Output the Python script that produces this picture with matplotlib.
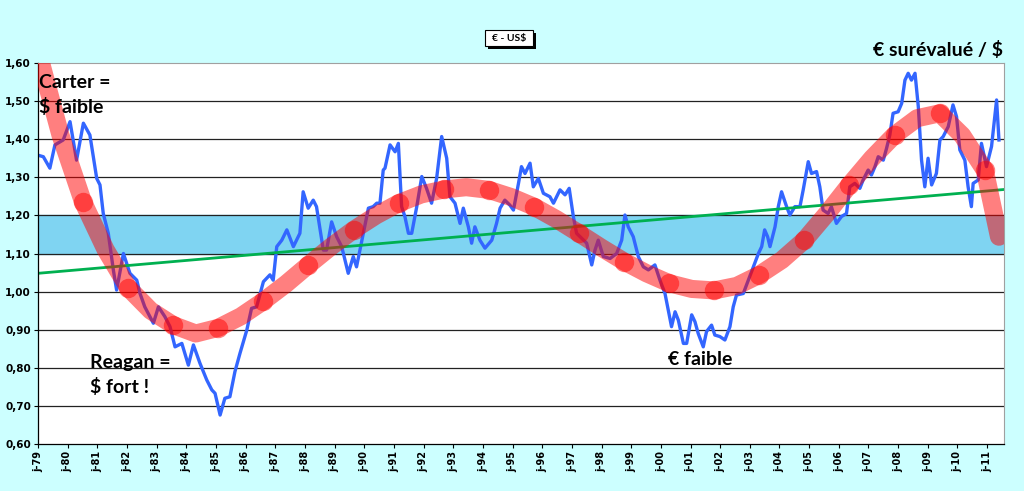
import matplotlib
matplotlib.use("Agg")
import matplotlib.pyplot as plt
from matplotlib.patches import Rectangle

# EUR/USD (ECU before 1999): decimal year, rate
eur_year = [1979.0, 1979.18, 1979.4, 1979.57, 1979.85, 1980.08, 1980.3, 1980.53, 1980.75, 1980.98,
            1981.09, 1981.2, 1981.37, 1981.54, 1981.65, 1981.88, 1982.1, 1982.33, 1982.44, 1982.6,
            1982.89, 1983.06, 1983.28, 1983.45, 1983.62, 1983.85, 1984.07, 1984.24, 1984.46, 1984.69,
            1984.86, 1984.97, 1985.14, 1985.3, 1985.47, 1985.64, 1985.81, 1986.04, 1986.2, 1986.37,
            1986.6, 1986.82, 1986.93, 1987.05, 1987.22, 1987.39, 1987.61, 1987.83, 1987.94, 1988.11,
            1988.28, 1988.39, 1988.62, 1988.73, 1988.9, 1989.07, 1989.24, 1989.46, 1989.63, 1989.74,
            1989.97, 1990.14, 1990.3, 1990.42, 1990.53, 1990.64, 1990.7, 1990.87, 1991.04, 1991.15,
            1991.26, 1991.37, 1991.49, 1991.6, 1991.77, 1991.94, 1992.1, 1992.27, 1992.44, 1992.61,
            1992.78, 1992.89, 1993.06, 1993.23, 1993.34, 1993.51, 1993.62, 1993.73, 1993.9, 1994.07,
            1994.3, 1994.46, 1994.58, 1994.74, 1994.91, 1995.03, 1995.2, 1995.3, 1995.42, 1995.59,
            1995.7, 1995.87, 1996.04, 1996.26, 1996.38, 1996.6, 1996.77, 1996.91, 1997.05, 1997.16,
            1997.33, 1997.5, 1997.67, 1997.78, 1997.89, 1998.06, 1998.29, 1998.51, 1998.68, 1998.79,
            1998.9, 1999.07, 1999.24, 1999.41, 1999.58, 1999.8, 1999.97, 2000.14, 2000.25, 2000.36,
            2000.48, 2000.59, 2000.76, 2000.87, 2001.04, 2001.15, 2001.26, 2001.43, 2001.54, 2001.71,
            2001.82, 2001.99, 2002.16, 2002.33, 2002.44, 2002.55, 2002.78, 2002.95, 2003.12, 2003.29,
            2003.4, 2003.5, 2003.6, 2003.68, 2003.85, 2003.96, 2004.07, 2004.24, 2004.35, 2004.52,
            2004.69, 2004.8, 2004.97, 2005.08, 2005.25, 2005.36, 2005.47, 2005.64, 2005.75, 2005.92,
            2006.09, 2006.26, 2006.37, 2006.54, 2006.71, 2006.82, 2006.99, 2007.1, 2007.22, 2007.33,
            2007.5, 2007.61, 2007.72, 2007.83, 2008.0, 2008.12, 2008.23, 2008.34, 2008.45, 2008.57,
            2008.68, 2008.79, 2008.9, 2009.01, 2009.13, 2009.29, 2009.41, 2009.52, 2009.69, 2009.85,
            2009.97, 2010.08, 2010.25, 2010.36, 2010.47, 2010.53, 2010.7, 2010.81, 2010.98, 2011.15,
            2011.32, 2011.4]
eur_rate = [1.358, 1.354, 1.324, 1.385, 1.398, 1.446, 1.345, 1.442, 1.411, 1.297,
            1.28, 1.205, 1.153, 1.057, 1.004, 1.10, 1.048, 1.030, 0.995, 0.96,
            0.917, 0.96, 0.934, 0.908, 0.855, 0.864, 0.807, 0.86, 0.812, 0.768,
            0.742, 0.733, 0.676, 0.72, 0.724, 0.79, 0.838, 0.899, 0.956, 0.96,
            1.026, 1.044, 1.03, 1.118, 1.135, 1.162, 1.118, 1.153, 1.262, 1.219,
            1.24, 1.223, 1.109, 1.109, 1.183, 1.144, 1.118, 1.048, 1.092, 1.065,
            1.153, 1.219, 1.223, 1.232, 1.232, 1.319, 1.324, 1.385, 1.367, 1.389,
            1.223, 1.197, 1.153, 1.153, 1.223, 1.302, 1.271, 1.232, 1.297, 1.407,
            1.35, 1.249, 1.232, 1.179, 1.219, 1.17, 1.127, 1.17, 1.135, 1.114,
            1.135, 1.179, 1.219, 1.24, 1.227, 1.214, 1.284, 1.328, 1.31, 1.337,
            1.275, 1.297, 1.258, 1.249, 1.232, 1.267, 1.254, 1.271, 1.197, 1.153,
            1.14, 1.127, 1.07, 1.109, 1.135, 1.092, 1.087, 1.10, 1.135, 1.201,
            1.17, 1.144, 1.092, 1.065, 1.057, 1.07, 1.03, 0.995, 0.952, 0.908,
            0.947, 0.925, 0.864, 0.864, 0.939, 0.921, 0.89, 0.855, 0.895, 0.912,
            0.886, 0.882, 0.873, 0.908, 0.96, 0.991, 0.995, 1.03, 1.065, 1.10,
            1.118, 1.162, 1.144, 1.118, 1.17, 1.223, 1.262, 1.223, 1.201, 1.223,
            1.223, 1.267, 1.341, 1.31, 1.315, 1.275, 1.214, 1.205, 1.223, 1.179,
            1.197, 1.205, 1.275, 1.284, 1.271, 1.293, 1.319, 1.306, 1.328, 1.354,
            1.345, 1.376, 1.411, 1.468, 1.472, 1.494, 1.555, 1.573, 1.555, 1.573,
            1.486, 1.345, 1.275, 1.35, 1.28, 1.31, 1.398, 1.407, 1.433, 1.49,
            1.459, 1.372, 1.345, 1.275, 1.223, 1.284, 1.293, 1.389, 1.328, 1.381,
            1.503, 1.398]

# smooth cycle curve (red), every other point carries a dot
cycle_year = [1979.0, 1979.76, 1980.52, 1981.28, 1982.04, 1982.80, 1983.56, 1984.32, 1985.08, 1985.84,
              1986.60, 1987.36, 1988.12, 1988.88, 1989.64, 1990.40, 1991.16, 1991.92, 1992.68, 1993.44,
              1994.20, 1994.96, 1995.72, 1996.48, 1997.24, 1998.00, 1998.76, 1999.52, 2000.28, 2001.04,
              2001.80, 2002.56, 2003.32, 2004.08, 2004.84, 2005.60, 2006.36, 2007.12, 2007.88, 2008.64,
              2009.40, 2010.16, 2010.92, 2011.40]
cycle_rate = [1.63, 1.41, 1.235, 1.11, 1.01, 0.95, 0.912, 0.89, 0.905, 0.935,
              0.975, 1.02, 1.07, 1.118, 1.162, 1.20, 1.232, 1.255, 1.268, 1.274,
              1.267, 1.248, 1.223, 1.19, 1.153, 1.115, 1.079, 1.048, 1.022, 1.007,
              1.003, 1.015, 1.044, 1.083, 1.135, 1.205, 1.28, 1.35, 1.411, 1.455,
              1.468, 1.41, 1.319, 1.144]
dot_idx = list(range(2, 43, 2))

# long-run trend (green) and "fair value" band
trend_year = [1979.0, 2011.57]
trend_rate = [1.048, 1.268]
band_low, band_high = 1.10, 1.20

years = list(range(1979, 2012))
year_labels = ["j-%02d" % (y % 100) for y in years]
yticks = [0.60, 0.70, 0.80, 0.90, 1.00, 1.10, 1.20, 1.30, 1.40, 1.50, 1.60]

W, H = 1024, 491
fig = plt.figure(figsize=(W / 100, H / 100), dpi=100, facecolor="#CCFFFF")
ax = fig.add_axes([38 / W, 1 - 444 / H, (1004 - 38) / W, (444 - 63) / H])
ax.set_facecolor("white")
ax.set_xlim(1979.0, 2011.57)
ax.set_ylim(0.60, 1.60)

ax.axhspan(band_low, band_high, color="#7FD4F2", zorder=1)
for v in yticks[1:-1]:
    ax.axhline(v, color="#222222", lw=0.9, zorder=1.5)

ax.plot(eur_year, eur_rate, color="#3366FF", lw=2.4, zorder=2, solid_joinstyle="round")
ax.plot(trend_year, trend_rate, color="#00B050", lw=2.0, zorder=2.5)
ax.plot(cycle_year, cycle_rate, color="#FF0000", alpha=0.5, lw=13, zorder=3,
        solid_capstyle="round", solid_joinstyle="round",
        marker="o", markersize=14, markeredgewidth=0, markevery=dot_idx)

ax.set_xticks(years)
ax.set_xticklabels(year_labels, rotation=90, fontsize=7, fontweight="bold")
ax.set_yticks(yticks)
ax.set_yticklabels([("%.2f" % v).replace(".", ",") for v in yticks], fontsize=7.5, fontweight="bold")
ax.tick_params(axis="both", direction="out", length=3, width=0.8, colors="black", pad=2)
for s in ("top", "right"):
    ax.spines[s].set_color("#A0A0A0")
    ax.spines[s].set_linewidth(0.8)
for s in ("left", "bottom"):
    ax.spines[s].set_color("black")
    ax.spines[s].set_linewidth(0.9)

txt = dict(fontsize=14, fontweight="bold", family=["Lato", "DejaVu Sans"], color="black")
ax.text(1979.05, 1.572, "Carter =\n$ faible", va="top", ha="left", linespacing=1.5, zorder=5, **txt)
ax.text(1980.75, 0.835, "Reagan =\n$ fort !", va="top", ha="left", linespacing=1.45, zorder=5, **txt)
ax.text(2000.24, 0.822, "€ faible", va="center", ha="left", zorder=5, **txt)
fig.text(1003 / W, 1 - 50 / H, "€ surévalué / $", ha="right", va="center", **txt)

# small boxed label with drop shadow
fig.patches.append(Rectangle((488 / W, 1 - 49 / H), 48 / W, 16 / H, transform=fig.transFigure,
                             facecolor="black", edgecolor="none", zorder=1))
fig.patches.append(Rectangle((485 / W, 1 - 46 / H), 48 / W, 16 / H, transform=fig.transFigure,
                             facecolor="white", edgecolor="black", linewidth=0.8, zorder=2))
fig.text(509 / W, 1 - 38 / H, "€ - US$", ha="center", va="center", fontsize=7.5,
         fontweight="bold", family=["Lato", "DejaVu Sans"], zorder=3)

fig.savefig("out.png", dpi=100, facecolor=fig.get_facecolor())
